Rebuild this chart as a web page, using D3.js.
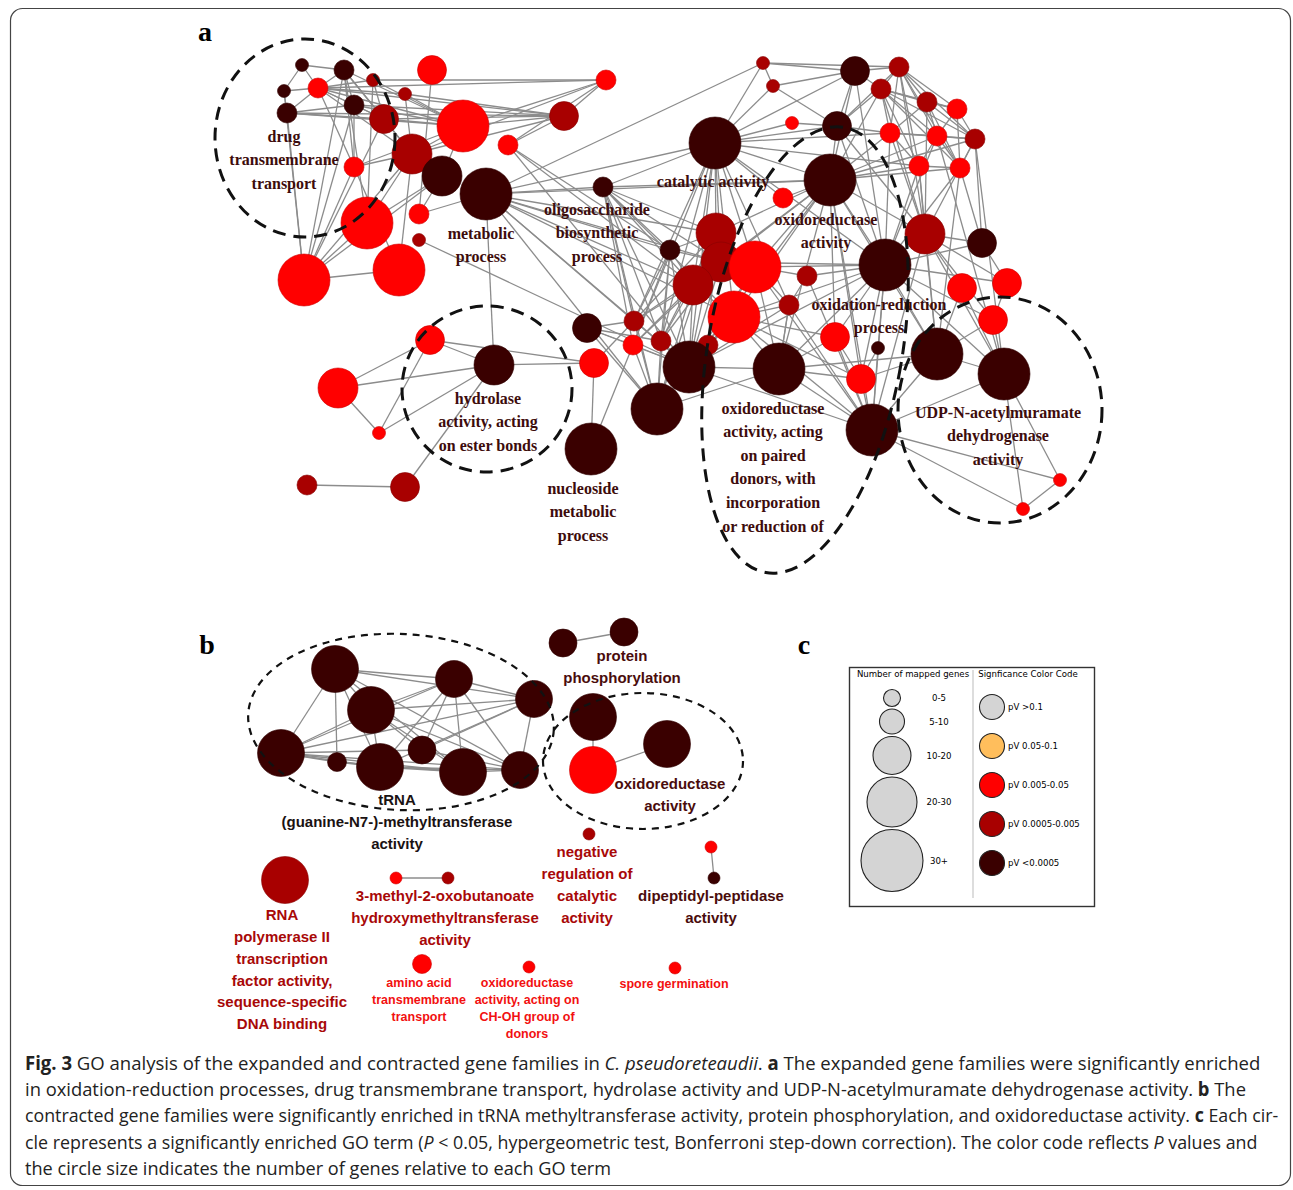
<!DOCTYPE html>
<html>
<head>
<meta charset="utf-8">
<script src="https://cdnjs.cloudflare.com/ajax/libs/d3/7.8.5/d3.min.js"></script>
<style>
body { margin: 0; background: #fff; }
svg { display: block; }
</style>
</head>
<body>
<script>
var w = 1293;
var h = 1190;

// significance classes (index into pvColors): 2 = 0.005-0.05, 3 = 0.0005-0.005, 4 = <0.0005
var pvLabels = ["pV >0.1", "pV 0.05-0.1", "pV 0.005-0.05", "pV 0.0005-0.005", "pV <0.0005"];
var pvColors = ["#d4d4d4", "#ffbe5c", "#ff0000", "#a80000", "#3a0000"];
var sizeLabels = ["0-5", "5-10", "10-20", "20-30", "30+"];

// panel a: id, layout x, layout y, gene-count bin, significance class
var nodesA = [
  ["a1",102,45,0,4], ["a2",144,50,1,4], ["a3",84,71,0,4], ["a4",118,68,1,2],
  ["a5",173,60,0,3], ["a6",205,74,0,3], ["a7",154,85,1,4], ["a8",87,93,1,4],
  ["a9",184,99,2,3], ["a10",232,50,2,2], ["a11",406,60,1,2], ["a12",364,96,2,3],
  ["a13",263,106,4,2], ["a14",212,134,3,3], ["a15",308,125,1,2], ["a16",154,147,1,2],
  ["a17",242,156,3,4], ["a18",286,174,4,4], ["a19",403,167,1,4], ["a20",167,203,4,2],
  ["a21",219,194,1,2], ["a22",219,220,0,3], ["a23",104,260,4,2], ["a24",199,250,4,2],
  ["b1",563,43,0,3], ["b2",573,66,0,3], ["b3",655,51,2,4], ["b4",699,47,1,3],
  ["b5",681,69,1,3], ["b6",727,82,1,3], ["b7",757,89,1,2], ["b8",592,103,0,2],
  ["b9",637,106,2,4], ["b10",690,113,1,2], ["b11",737,116,1,2], ["b12",775,119,1,3],
  ["b13",719,146,1,2], ["b14",760,148,1,2], ["b15",515,123,4,4], ["b16",583,178,1,2],
  ["b17",630,160,4,4],
  ["c1",516,213,3,3], ["c2",470,230,1,4], ["c3",521,242,3,3], ["c4",555,247,4,2],
  ["c5",493,265,3,3], ["c6",607,256,1,3], ["c7",685,245,4,4], ["c8",725,214,3,3],
  ["c9",782,223,2,4], ["c10",762,268,2,2], ["c11",807,263,2,2], ["c12",589,285,1,3],
  ["c13",534,297,4,2], ["c14",434,301,1,3], ["c15",433,325,1,2], ["c16",461,321,1,3],
  ["c17",508,325,1,3], ["c18",489,347,4,4], ["c19",457,389,4,4], ["c20",579,349,4,4],
  ["c21",635,317,2,2], ["c22",678,328,0,4], ["c23",661,359,2,2], ["c24",737,334,4,4],
  ["c25",804,354,4,4], ["c26",672,410,4,4], ["c27",860,460,0,2], ["c28",823,489,0,2],
  ["c29",793,300,2,2],
  ["d1",230,320,2,2], ["d2",294,345,3,4], ["d3",138,368,3,2], ["d4",179,413,0,2],
  ["d5",107,465,1,3], ["d6",205,467,2,3], ["d7",387,308,2,4], ["d8",394,343,2,2],
  ["d9",391,429,4,4]
];

var edgesA = [
  "a1-a3","a1-a2","a1-a4","a3-a8","a3-a4","a8-a4","a8-a7","a8-a9","a8-a13","a8-a12","a8-a23","a3-a23",
  "a4-a2","a4-a5","a4-a6","a4-a7","a4-a9","a4-a13","a4-a12","a4-a11","a4-a16","a4-a14",
  "a2-a7","a2-a9","a2-a16","a2-a14","a2-a20","a2-a23","a2-a13",
  "a5-a11","a5-a9","a5-a13","a5-a20","a6-a13","a6-a12","a6-a14",
  "a7-a13","a7-a12","a7-a9","a7-a16","a7-a23","a9-a14","a9-a13","a9-a12","a9-a23",
  "a10-a21","a11-a12","a11-a13","a11-a14","a11-a15","a12-a13","a12-a14","a12-a15",
  "a13-a14","a13-a17","a13-a16","a14-a16","a14-a20","a14-a23","a14-a17","a14-a24",
  "a16-a23","a16-a24","a20-a23","a23-a24","a17-a23","a17-a20","a17-a21",
  "a15-c2","a15-c5","a15-c18","a21-a18","a22-c18",
  "a18-a19","a18-b15","a18-d2","a18-c5","a18-c1","a18-c18","a18-c19","a18-c13","a18-c2","a18-b17","a18-c3","a18-c14","a18-b1",
  "a19-b15","a19-c1","a19-c5","a19-c18","a19-c19","a19-c2","a19-c13","a19-c16","a19-c14","a19-b17","a19-c15","a19-c3",
  "b15-b1","b15-b2","b15-b3","b15-b9","b15-b17","b15-c1","b15-c3","b15-c5","b15-c18","b15-c13","b15-c12","b15-b10",
  "b15-c7","b15-c14","b15-c15","b15-b13","b15-c4","b15-b16","b15-c16",
  "b17-b3","b17-b9","b17-b5","b17-b10","b17-b11","b17-b13","b17-b14","b17-c7","b17-c1","b17-c3","b17-c4","b17-c13",
  "b17-c18","b17-c20","b17-c21","b17-c23","b17-c26","b17-b16","b17-c8","b17-c5","b17-b12","b17-c24",
  "c7-c8","c7-b13","c7-b10","c7-b11","c7-c24","c7-c26","c7-c20","c7-c23","c7-c21","c7-c9","c7-c4","c7-c3",
  "c7-c22","c7-c25","c7-c18","c7-c29","c7-b14","c7-c13","c7-c6","c7-c11",
  "b3-b4","b3-b5","b3-b1","b3-b2","b1-b2","b1-b4","b2-b9","b4-b5","b4-b6","b4-b7","b4-b10","b4-b11","b4-b12",
  "b4-b13","b4-b14","b5-b6","b5-b7","b5-b10","b5-b11","b5-b12","b5-b13","b5-b14","b6-b7","b6-b11","b6-b12",
  "b6-b14","b6-b10","b7-b12","b7-b14","b7-b11","b10-b11","b10-b13","b10-b12","b11-b12","b11-b14","b11-b13",
  "b13-b14","b12-b14","b9-b10","b9-b5","b9-b4","b3-b9","b8-b9","b8-b15","b9-c8","b9-c7","b3-c7","b5-c8",
  "b4-c8","b10-c8","b12-c8","b6-c8","b14-c9","b12-c9","b13-c24","b14-c24","b11-c25","b12-c25","b13-c8",
  "c8-c9","c8-c25","c8-c10","c8-c24","c8-c29","c8-c26","c8-c11","c9-c11",
  "c10-c25","c11-c29","c29-c25","c29-c24","c25-c28","c25-c27","c26-c28","c26-c27","c27-c28","c25-c26",
  "c24-c26","c24-c25","c24-c20","c24-c23","c24-c10","c26-c20","c26-c21","c26-c23","c26-c22","c26-c6",
  "c26-c12","c26-c13","c26-c4","c26-c18",
  "c20-c18","c20-c13","c20-c4","c20-c21","c20-c23","c20-c19","c20-c12",
  "c18-c19","c18-c14","c18-c15","c18-c16","c18-c17","c18-c13","c18-c4","c18-c5","c18-c1","c18-c3","c18-c12",
  "c19-c14","c19-c15","c19-c5","c19-c13","c19-c16","c19-c1","c19-d7",
  "c14-c1","c14-c3","c14-c5","c15-c5","c15-c3","c16-c1","c16-c5","c16-c3","c17-c13","c17-c4","c17-c1",
  "c1-c3","c1-c4","c3-c5","c3-c4","c4-c6","c6-c12","c4-c12","c5-c13","c12-c13","c13-c21",
  "c2-c18","c2-c19","c2-c5","c2-c14","c2-c15","c2-c1","c2-c3","c2-c16",
  "c21-c23","c22-c23","c13-c23","c12-c20",
  "d7-c14","d7-c16","d7-c15","d7-c18","d8-d9","d8-d2","d8-d1","c15-d9","d8-c14",
  "d1-d2","d1-d3","d1-d4","d3-d2","d3-d4","d4-d2","d2-d6","d5-d6"
];

// group labels of panel a: layout x, layout y of first line, lines
var labelsA = [
  [84,116,["drug","transmembrane","transport"]],
  [281,213,["metabolic","process"]],
  [397,189,["oligosaccharide","biosynthetic","process"]],
  [513,161,["catalytic activity"]],
  [626,199,["oxidoreductase","activity"]],
  [679,284,["oxidation-reduction","process"]],
  [288,378,["hydrolase","activity, acting","on ester bonds"]],
  [383,468,["nucleoside","metabolic","process"]],
  [573,388,["oxidoreductase","activity, acting","on paired","donors, with","incorporation","or reduction of"]],
  [798,392,["UDP-N-acetylmuramate","dehydrogenase","activity"]]
];

// dashed group outlines of panel a: layout cx, cy, rx, ry, tilt (deg)
var groupsA = [
  [105,118,90,99,0],
  [287,369,85,83,0],
  [605,330,97,226,10],
  [800,390,102,113,0]
];

// panel b
var nodesB = [
  ["e1",135,49,4,4], ["e2",254,59,3,4], ["e3",334,79,3,4], ["e4",171,90,4,4],
  ["e5",81,133,4,4], ["e6",137,142,1,4], ["e7",180,147,4,4], ["e8",222,130,2,4],
  ["e9",263,152,4,4], ["e10",320,150,3,4],
  ["f1",363,23,2,4], ["f2",424,12,2,4],
  ["g1",393,97,4,4], ["g2",467,124,4,4], ["g3",393,150,4,2],
  ["h1",389,214,0,3], ["h2",511,227,0,2], ["h3",514,258,0,4],
  ["h4",85,260,4,3], ["h5",196,258,0,2], ["h6",248,258,0,3],
  ["h7",222,344,1,2], ["h8",329,347,0,2], ["h9",475,348,0,2]
];

var edgesB = [
  "e1-e4","e1-e2","e1-e5","e1-e6","e1-e7","e1-e9","e1-e3","e1-e10",
  "e4-e2","e4-e3","e4-e5","e4-e7","e4-e9","e4-e10","e4-e8",
  "e2-e3","e2-e5","e2-e7","e2-e8","e2-e9","e2-e10",
  "e3-e5","e3-e10","e3-e7","e3-e8","e5-e6","e5-e7","e5-e9","e5-e10","e5-e8",
  "e7-e9","e7-e10","e8-e10","e6-e7","e9-e10","e6-e9",
  "f1-f2","g1-g3","g3-g2","h2-h3","h5-h6"
];

// panel b labels: layout x, layout y, lines, colour class, small text flag
var labelsB = [
  [422,36,["protein","phosphorylation"],4,0],
  [470,164,["oxidoreductase","activity"],4,0],
  [197,180,["tRNA","(guanine-N7-)-methyltransferase","activity"],5,0],
  [387,232,["negative","regulation of","catalytic","activity"],3,0],
  [511,276,["dipeptidyl-peptidase","activity"],4,0],
  [82,295,["RNA","polymerase II","transcription","factor activity,","sequence-specific","DNA binding"],3,0],
  [245,276,["3-methyl-2-oxobutanoate","hydroxymethyltransferase","activity"],3,0],
  [219,363,["amino acid","transmembrane","transport"],2,1],
  [327,363,["oxidoreductase","activity, acting on","CH-OH group of","donors"],2,1],
  [474,364,["spore germination"],2,1]
];

var groupsB = [
  [201,102,153,88,3],
  [443,141,100,68,0]
];

var captionLines = [
  [["b","Fig. 3"],["n"," GO analysis of the expanded and contracted gene families in "],["i","C. pseudoreteaudii"],["n",". "],["b","a"],["n"," The expanded gene families were significantly enriched"]],
  [["n","in oxidation-reduction processes, drug transmembrane transport, hydrolase activity and UDP-N-acetylmuramate dehydrogenase activity. "],["b","b"],["n"," The"]],
  [["n","contracted gene families were significantly enriched in tRNA methyltransferase activity, protein phosphorylation, and oxidoreductase activity. "],["b","c"],["n"," Each cir-"]],
  [["n","cle represents a significantly enriched GO term ("],["i","P"],["n"," < 0.05, hypergeometric test, Bonferroni step-down correction). The color code reflects "],["i","P"],["n"," values and"]],
  [["n","the circle size indicates the number of genes relative to each GO term"]]
];
var captionWidths = [1236, 1222, 1254, 1233, 0];

var svg = d3.select("body").append("svg")
    .attr("width", w)
    .attr("height", h);

// frame
svg.append("rect")
    .attr("x", 10.5).attr("y", 8.5)
    .attr("width", 1280).attr("height", 1177)
    .attr("rx", 12)
    .attr("fill", "none")
    .attr("stroke", "#444")
    .attr("stroke-width", 1.2);

var color = d3.scaleOrdinal().domain([0,1,2,3,4]).range(pvColors);

function drawNetwork(g, nodes, edges, xs, ys, rs) {
  var byId = {};
  nodes.forEach(function(n) { byId[n[0]] = n; });
  g.append("g").selectAll("line")
    .data(edges.map(function(e) { return e.split("-"); }))
    .enter().append("line")
    .attr("x1", function(d) { return xs(byId[d[0]][1]); })
    .attr("y1", function(d) { return ys(byId[d[0]][2]); })
    .attr("x2", function(d) { return xs(byId[d[1]][1]); })
    .attr("y2", function(d) { return ys(byId[d[1]][2]); })
    .attr("stroke", "#8c8c8c")
    .attr("stroke-width", 1.3);
  g.append("g").selectAll("circle")
    .data(nodes)
    .enter().append("circle")
    .attr("cx", function(d) { return xs(d[1]); })
    .attr("cy", function(d) { return ys(d[2]); })
    .attr("r", function(d) { return rs(d[3]); })
    .attr("fill", function(d) { return color(d[4]); })
    .attr("stroke", function(d) { return d3.color(color(d[4])).darker(0.6); })
    .attr("stroke-width", 0.6);
}

function drawGroups(g, groups, xs, ys, sw, dash) {
  g.selectAll("ellipse.grp")
    .data(groups)
    .enter().append("ellipse")
    .attr("class", "grp")
    .attr("transform", function(d) { return "translate(" + xs(d[0]) + "," + ys(d[1]) + ") rotate(" + d[4] + ")"; })
    .attr("rx", function(d) { return xs(d[2]) - xs(0); })
    .attr("ry", function(d) { return ys(d[3]) - ys(0); })
    .attr("fill", "none")
    .attr("stroke", "#111")
    .attr("stroke-width", sw)
    .attr("stroke-dasharray", dash);
}

// ---- panel a ----
var xa = d3.scaleLinear().domain([0, 1000]).range([200, 1200]);
var ya = d3.scaleLinear().domain([0, 1000]).range([20, 1020]);
var ra = d3.scaleOrdinal().domain([0,1,2,3,4]).range([6.5, 10, 14.5, 20, 26]);

var ga = svg.append("g");
drawNetwork(ga, nodesA, edgesA, xa, ya, ra);

labelsA.forEach(function(l) {
  var t = ga.append("text")
      .attr("text-anchor", "middle")
      .style("font-family", "'Liberation Serif', 'Times New Roman', serif")
      .style("font-weight", "bold")
      .style("font-size", "16px")
      .attr("fill", "#3d0c0c");
  l[2].forEach(function(s, i) {
    t.append("tspan")
      .attr("x", xa(l[0]))
      .attr("y", ya(l[1]) + i * 23.6)
      .attr("dy", "0.35em")
      .text(s);
  });
});

drawGroups(ga, groupsA, xa, ya, 3, "13,8");

// ---- panel b ----
var xb = d3.scaleLinear().domain([0, 1000]).range([200, 1200]);
var yb = d3.scaleLinear().domain([0, 1000]).range([620, 1620]);
var rb = d3.scaleOrdinal().domain([0,1,2,3,4]).range([6, 9.5, 14, 18.5, 23.5]);

var gb = svg.append("g");
drawNetwork(gb, nodesB, edgesB, xb, yb, rb);

var labelColor = d3.scaleOrdinal().domain([2,3,4,5]).range(["#f21010", "#a80808", "#4a0c0c", "#1a1212"]);

labelsB.forEach(function(l) {
  var small = l[4] === 1;
  var t = gb.append("text")
      .attr("text-anchor", "middle")
      .style("font-family", "'Liberation Sans', Arial, sans-serif")
      .style("font-weight", "bold")
      .style("font-size", small ? "12.5px" : "15px")
      .attr("fill", labelColor(l[3]));
  l[2].forEach(function(s, i) {
    t.append("tspan")
      .attr("x", xb(l[0]))
      .attr("y", yb(l[1]) + i * (small ? 17 : 21.8))
      .attr("dy", "0.35em")
      .text(s);
  });
});

drawGroups(gb, groupsB, xb, yb, 2.2, "7,6");

// panel letters
[["a", 205, 41], ["b", 207, 654], ["c", 804, 654]].forEach(function(p) {
  svg.append("text")
    .attr("x", p[1]).attr("y", p[2])
    .attr("text-anchor", "middle")
    .style("font-family", "'Liberation Serif', 'Times New Roman', serif")
    .style("font-weight", "bold")
    .style("font-size", "28px")
    .text(p[0]);
});

// ---- panel c : legend ----
var gc = svg.append("g");
gc.append("rect")
  .attr("x", 849.5).attr("y", 667.5)
  .attr("width", 245).attr("height", 239)
  .attr("fill", "#fff")
  .attr("stroke", "#333")
  .attr("stroke-width", 1.4);
gc.append("line")
  .attr("x1", 973).attr("x2", 973)
  .attr("y1", 670).attr("y2", 898)
  .attr("stroke", "#bbb");

var legFont = "'DejaVu Sans', Verdana, sans-serif";
gc.append("text").attr("x", 913).attr("y", 677)
  .attr("text-anchor", "middle")
  .style("font-family", legFont).style("font-size", "8.6px")
  .text("Number of mapped genes");
gc.append("text").attr("x", 1028).attr("y", 677)
  .attr("text-anchor", "middle")
  .style("font-family", legFont).style("font-size", "8.6px")
  .text("Signficance Color Code");

var rLeg = d3.scaleOrdinal().domain(sizeLabels).range([8.5, 12.5, 19, 25, 31]);
var sizeRows = [];
var yy = 698;
sizeLabels.forEach(function(s, i) {
  if (i > 0) yy += rLeg(sizeLabels[i - 1]) + 2.5 + rLeg(s);
  sizeRows.push({ label: s, y: yy });
});

gc.selectAll("circle.sz")
  .data(sizeRows)
  .enter().append("circle")
  .attr("class", "sz")
  .attr("cx", 892)
  .attr("cy", function(d) { return d.y; })
  .attr("r", function(d) { return rLeg(d.label); })
  .attr("fill", "#d4d4d4")
  .attr("stroke", "#222")
  .attr("stroke-width", 1.1);
gc.selectAll("text.sz")
  .data(sizeRows)
  .enter().append("text")
  .attr("class", "sz")
  .attr("x", 939)
  .attr("y", function(d) { return d.y + 3; })
  .attr("text-anchor", "middle")
  .style("font-family", legFont).style("font-size", "8.6px")
  .text(function(d) { return d.label; });

var yLeg = d3.scalePoint().domain(pvLabels).range([707, 863]);
gc.selectAll("circle.pv")
  .data(pvLabels)
  .enter().append("circle")
  .attr("class", "pv")
  .attr("cx", 992)
  .attr("cy", function(d) { return yLeg(d); })
  .attr("r", 12.5)
  .attr("fill", function(d, i) { return pvColors[i]; })
  .attr("stroke", "#222")
  .attr("stroke-width", 1.1);
gc.selectAll("text.pv")
  .data(pvLabels)
  .enter().append("text")
  .attr("class", "pv")
  .attr("x", 1008)
  .attr("y", function(d) { return yLeg(d) + 3; })
  .style("font-family", legFont).style("font-size", "8.6px")
  .text(function(d) { return d; });

// ---- caption: condensed by a horizontal scale so the lines wrap like the reference ----
var cap = svg.append("g");
var ks = [];
var capTexts = [];
captionLines.forEach(function(line, i) {
  var row = cap.append("g");
  var t = row.append("text")
    .attr("x", 0)
    .attr("y", 0)
    .style("font-family", "'Open Sans', 'Liberation Sans', sans-serif")
    .style("font-size", "19px")
    .attr("fill", "#222");
  line.forEach(function(seg) {
    var ts = t.append("tspan").text(seg[1]);
    if (seg[0] === "b") ts.style("font-weight", "bold");
    if (seg[0] === "i") ts.style("font-style", "italic");
  });
  var natural = t.node().getComputedTextLength();
  if (captionWidths[i] > 0) ks.push(captionWidths[i] / natural);
  capTexts.push({ row: row, i: i, natural: natural });
});
var kMean = d3.mean(ks);
capTexts.forEach(function(c) {
  var k = captionWidths[c.i] > 0 ? captionWidths[c.i] / c.natural : kMean;
  c.row.attr("transform", "translate(25," + (1070 + c.i * 26.2) + ") scale(" + k + ",1)");
});
</script>
</body>
</html>
